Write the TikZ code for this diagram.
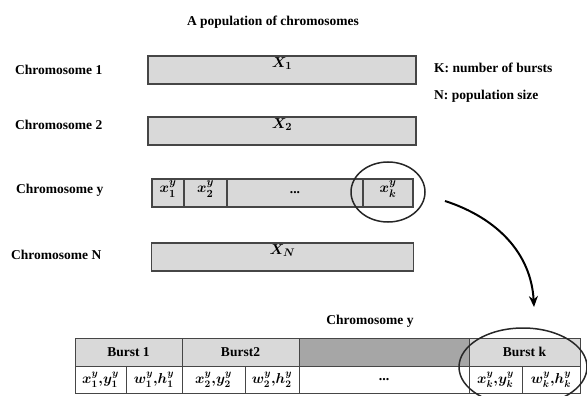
\documentclass[tikz,border=0pt]{standalone}
\usepackage{fontspec}
\setmainfont{Liberation Serif}
\usepackage{amsmath}
\usetikzlibrary{positioning,arrows.meta,shapes.geometric}
\definecolor{barfill}{RGB}{217,217,217}
\definecolor{gapfill}{RGB}{166,166,166}
\definecolor{barline}{RGB}{70,70,70}

\begin{document}
\begin{tikzpicture}[x=1pt, y=-1pt,
  font=\fontsize{13.5}{16}\selectfont\bfseries\boldmath,
  bar/.style={draw=barline, line width=1.1pt, fill=barfill, inner sep=0pt, outer sep=0pt, minimum height=28pt},
  cell/.style={draw=barline, line width=0.8pt, inner sep=0pt, outer sep=0pt, minimum height=27pt},
  tag/.style={anchor=west, inner sep=0pt},
  ring/.style={draw=black!85, line width=1.5pt, ellipse, inner sep=0pt},
  gene/.style={inner sep=1.5pt, font=\fontsize{15}{17}\selectfont\bfseries\boldmath}]
\useasboundingbox (0,0) rectangle (587,396);

% title and legend
\node (title) at (273,22) {A population of chromosomes};
\node[tag] (legK) at (434,68) {K: number of bursts};
\node[tag] (legN) at (434,96) {N: population size};

% chromosome names
\node[tag] (name1) at (15,70) {Chromosome 1};
\node[tag] (name2) at (15,125) {Chromosome 2};
\node[tag] (namey) at (16,190) {Chromosome y};
\node[tag] (nameN) at (11,255) {Chromosome N};

% whole chromosomes
\node[bar, minimum width=268pt] (chrom1) at (282,70) {};
\node[below=0pt of chrom1.north, gene] {$X_1$};
\node[bar, minimum width=268pt] (chrom2) at (282,131) {};
\node[below=0pt of chrom2.north, gene] {$X_2$};
\node[bar, minimum width=262pt] (chromN) at (282.5,257) {};
\node[below=0pt of chromN.north, gene] {$X_N$};

% chromosome y cut into genes
\node[bar, minimum width=32pt, anchor=west] (gy1) at (152,193) {};
\node[bar, minimum width=43pt, right=0pt of gy1] (gy2) {};
\node[bar, minimum width=136pt, right=0pt of gy2] (gydots) {\textbf{...}};
\node[bar, minimum width=50pt, right=0pt of gydots] (gyk) {};
\node[below=0pt of gy1.north, gene] {$x^y_1$};
\node[below=0pt of gy2.north, gene] {$x^y_2$};
\node[below=0pt of gyk.north, gene] {$x^y_k$};

\node[ring, minimum width=74pt, minimum height=60pt] (loopy) at (388,192) {};

% arrow to the detail
\coordinate (arrfrom) at (445,201);
\coordinate (arrto) at (534,307);
\draw[line width=2pt, -{Stealth[length=11pt,width=9pt]}] (arrfrom) to[out=-18, in=93] (arrto);

\node (detailname) at (370,321) {Chromosome y};

% detail table, top row
\node[cell, fill=barfill, minimum width=107pt, minimum height=28pt, anchor=north west] (burst1) at (75,338) {Burst 1};
\node[cell, fill=barfill, minimum width=117pt, minimum height=28pt, right=0pt of burst1] (burst2) {Burst2};
\node[cell, fill=gapfill, minimum width=170pt, minimum height=28pt, right=0pt of burst2] (burstgap) {};
\node[cell, fill=barfill, minimum width=111pt, minimum height=28pt, right=0pt of burstgap] (burstk) {Burst k};

% detail table, bottom row
\begin{scope}[font=\fontsize{14}{16}\selectfont\bfseries\boldmath]
\node[cell, minimum width=51pt, anchor=north west] (p1) at (burst1.south west) {$x^y_1{,}y^y_1$};
\node[cell, minimum width=56pt, right=0pt of p1] (s1) {$w^y_1{,}h^y_1$};
\node[cell, minimum width=63pt, right=0pt of s1] (p2) {$x^y_2{,}y^y_2$};
\node[cell, minimum width=54pt, right=0pt of p2] (s2) {$w^y_2{,}h^y_2$};
\node[cell, minimum width=170pt, right=0pt of s2] (pdots) {\textbf{...}};
\node[cell, minimum width=53pt, right=0pt of pdots] (pk) {$x^y_k{,}y^y_k$};
\node[cell, minimum width=58pt, right=0pt of pk] (sk) {$w^y_k{,}h^y_k$};
\end{scope}

\node[ring, minimum width=128pt, minimum height=78pt] (loopk) at (523,367) {};
\end{tikzpicture}
\end{document}
